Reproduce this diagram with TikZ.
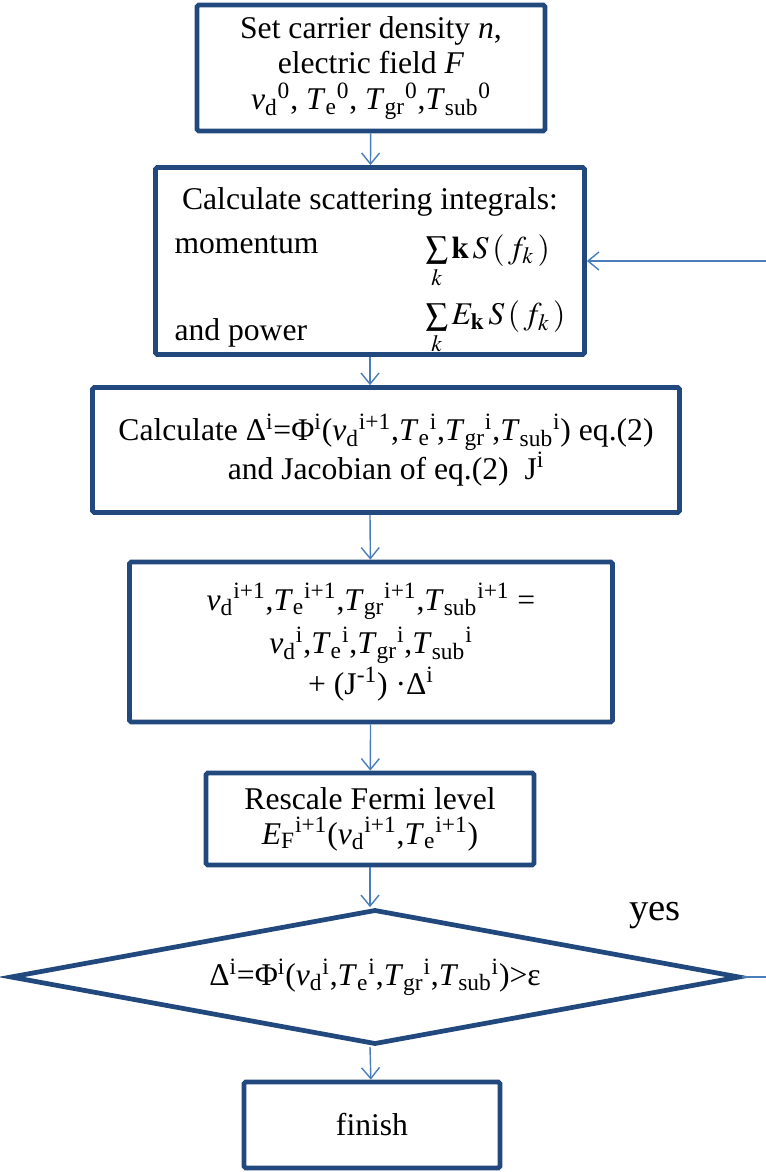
\documentclass[tikz,border=0pt]{standalone}
\usepackage{mathptmx}
\usepackage{fontspec}
\setmainfont{Liberation Serif}
\usetikzlibrary{arrows.meta,positioning,calc,shapes.geometric}
\definecolor{boxblue}{HTML}{22497E}
\definecolor{lineblue}{HTML}{4A7EBB}
\newcommand{\qv}[3]{\textit{#1}\textsubscript{#2}\textsuperscript{#3}}

\begin{document}
\begin{tikzpicture}[x=0.02cm,y=-0.02cm,
 box/.style={draw=boxblue,line width=2.7pt,rounded corners=1pt,align=center,inner sep=2pt,font=\fontsize{18}{19.8}\selectfont},
 dec/.style={diamond,aspect=5.4,draw=boxblue,line width=2.7pt,inner sep=0pt,minimum width=14.6cm,minimum height=2.7cm,font=\fontsize{18}{19.8}\selectfont},
 a/.style={-{Straight Barb[length=2.2mm,width=3.6mm]},line width=0.8pt,lineblue}]
\useasboundingbox (0,0) rectangle (766,1172);

\node[box,minimum width=6.96cm,minimum height=2.52cm] (set) at (371,68)
 {Set carrier density \textit{n},\\electric field \textit{F}\\[1pt]\qv{v}{d}{0}, \qv{T}{e}{0}, \qv{T}{gr}{0},\qv{T}{sub}{0}};
\node[box,minimum width=8.58cm,minimum height=3.54cm] (scat) at (370,261)
 {\rule{0pt}{22pt}Calculate scattering integrals:\\[6pt]
  \begin{tabular}{@{}p{4.6cm}l@{}}
  momentum & \raisebox{-3pt}[0pt][0pt]{$\sum\limits_k \mathbf{k}\,S\,(\,f_k\,)$}\\[30pt]
  and power & \raisebox{9pt}[0pt][0pt]{$\sum\limits_k E_{\mathbf{k}}\,S\,(\,f_k\,)$}
  \end{tabular}};
\node[box,minimum width=11.74cm,minimum height=2.5cm] (jac) at (386,450)
 {Calculate Δ\textsuperscript{i}=Φ\textsuperscript{i}(\qv{v}{d}{i+1},\qv{T}{e}{i},\qv{T}{gr}{i},\qv{T}{sub}{i}) eq.(2)\\and Jacobian of eq.(2) \ J\textsuperscript{i}};
\node[box,minimum width=9.66cm,minimum height=3.2cm] (upd) at (371,642)
 {\qv{v}{d}{i+1},\qv{T}{e}{i+1},\qv{T}{gr}{i+1},\qv{T}{sub}{i+1} =\\[3pt]
  \qv{v}{d}{i},\qv{T}{e}{i},\qv{T}{gr}{i},\qv{T}{sub}{i}\\[1pt]
  + (J\textsuperscript{-1}) ·Δ\textsuperscript{i}};
\node[box,minimum width=6.56cm,minimum height=1.84cm] (fermi) at (370,819)
 {Rescale Fermi level\\\qv{E}{F}{i+1}(\qv{v}{d}{i+1},\qv{T}{e}{i+1})};
\node[dec] (chk) at (375,977)
 {Δ\textsuperscript{i}=Φ\textsuperscript{i}(\qv{v}{d}{i},\qv{T}{e}{i},\qv{T}{gr}{i},\qv{T}{sub}{i})>ε};
\node[box,minimum width=5.12cm,minimum height=1.72cm] (fin) at (372,1125) {finish};
\node[font=\fontsize{22}{24}\selectfont] (yes) at (655,916) {yes};

\draw[a] (set) -- (scat);
\draw[a] (scat) -- (scat |- jac.north);
\draw[a] (scat |- jac.south) -- (upd);
\draw[a] (upd) -- (fermi);
\draw[a] (fermi) -- (fermi |- chk.north);
\draw[a] (fermi |- chk.south) -- (fin);
% loop back when the residual is still too large
\coordinate (rt) at (800,977);
\draw[a] (chk.east) -- (rt) |- (scat.east);
\end{tikzpicture}
\end{document}
